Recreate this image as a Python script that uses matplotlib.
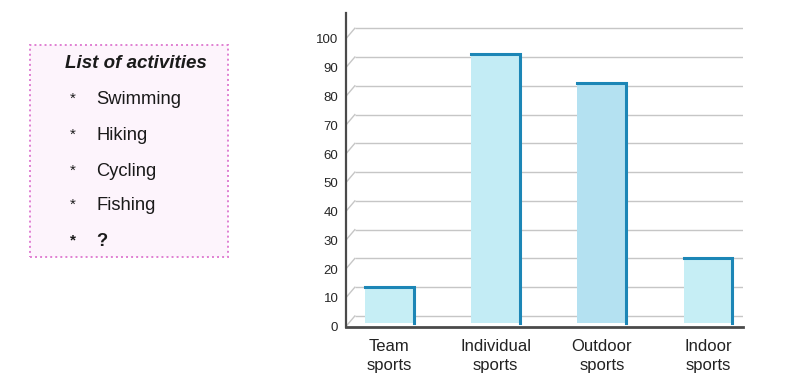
import matplotlib
matplotlib.use("Agg")
import matplotlib.pyplot as plt
from matplotlib.patches import Rectangle

plt.rcParams['font.family'] = ['Liberation Sans', 'DejaVu Sans']

# ---- data ----
categories = ["Team\nsports", "Individual\nsports", "Outdoor\nsports", "Indoor\nsports"]
values = [10, 91, 81, 20]
yticks = [0, 10, 20, 30, 40, 50, 60, 70, 80, 90, 100]
activities = ["Swimming", "Hiking", "Cycling", "Fishing", "?"]
list_title = "List of activities"

# ---- style ----
W, H = 801, 391
fig = plt.figure(figsize=(W / 100, H / 100), dpi=100)
fig.patch.set_facecolor("white")

def fx(px):
    return px / W

def fy(py):
    return 1 - py / H

ax_l, ax_r, ax_b, ax_t = 345.7, 743, 326.7, 13
ax = fig.add_axes([fx(ax_l), fy(ax_b), fx(ax_r - ax_l), (ax_b - ax_t) / H])

depth = 3.72          # pseudo-3D depth (data units)
grid_dx = 0.023       # slant width (axes fraction)
bar_base = -2.4
bar_w = 0.46
fill_colors = ["#c6eef5", "#c3ecf5", "#b4e1f1", "#c6eef5"]
edge_color = "#1c86b6"
grid_color = "#c6c6c6"
axis_color = "#4a4a4a"

ax.set_xlim(-0.41, 3.329)
ax.set_ylim(-depth, 105.3)

# grid (back wall) with slanted connectors
gtrans = ax.get_yaxis_transform()
ax.hlines(yticks, grid_dx, 1, transform=gtrans, colors=grid_color, lw=1.0, zorder=1)
for v in yticks:
    ax.plot([0, grid_dx], [v - depth, v], transform=gtrans, color=grid_color, lw=1.0, zorder=1)

# bars
xs = list(range(len(values)))
for x, v, c in zip(xs, values, fill_colors):
    ax.bar(x, v - bar_base, bottom=bar_base, width=bar_w, color=c, edgecolor="none", zorder=2)
    ax.plot([x - bar_w / 2, x + bar_w / 2, x + bar_w / 2], [v, v, bar_base],
            color=edge_color, lw=2.2, solid_joinstyle="miter", zorder=3)

# axes styling
for s in ["top", "right"]:
    ax.spines[s].set_visible(False)
ax.spines["left"].set_color(axis_color)
ax.spines["left"].set_linewidth(1.6)
ax.spines["bottom"].set_color(axis_color)
ax.spines["bottom"].set_linewidth(2.0)
ax.set_facecolor("none")

ax.set_yticks([v - depth for v in yticks], labels=[str(v) for v in yticks])
ax.set_xticks(xs, labels=categories)
ax.tick_params(axis="y", length=0, pad=5.3, labelsize=9.5, labelcolor="#262626")
ax.tick_params(axis="x", length=0, pad=9, labelsize=12, labelcolor="#222222")
for lab in ax.get_xticklabels():
    lab.set_linespacing(1.35)

# ---- left panel: list of activities ----
bx0, by0, bx1, by1 = 30, 45, 228, 257
fig.patches.append(Rectangle((fx(bx0), fy(by1)), fx(bx1 - bx0), (by1 - by0) / H,
                             transform=fig.transFigure, facecolor="#fdf4fc",
                             edgecolor="#e07fd2", lw=1.4, linestyle=(0, (1, 1.6)),
                             zorder=0))
fig.text(fx(65), fy(63), list_title, fontsize=13.5, fontweight="bold", fontstyle="italic",
         ha="left", va="center", color="#1a1a1a")
item_y = [100, 136, 171.5, 206, 241.5]
for i, (name, yy) in enumerate(zip(activities, item_y)):
    last = i == len(activities) - 1
    fig.text(fx(73), fy(yy - 1), "*", fontsize=11, ha="center", va="center",
             fontweight="bold" if last else "normal", color="#1a1a1a")
    fig.text(fx(96.5), fy(yy), name, fontsize=13.2, ha="left", va="center",
             fontweight="bold" if last else "normal", color="#1a1a1a")

fig.savefig("out.png", dpi=100)
